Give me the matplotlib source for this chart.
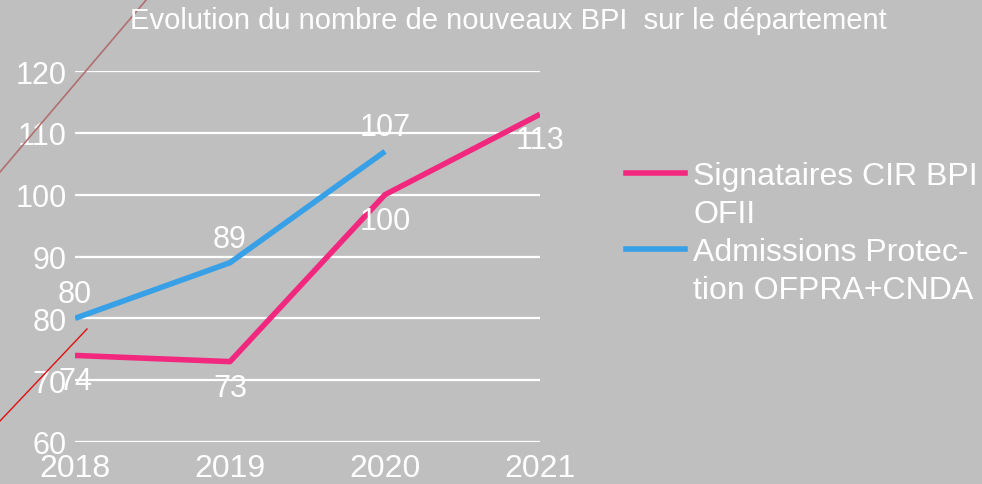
import matplotlib.pyplot as plt
from matplotlib.lines import Line2D

years = [2018, 2019, 2020, 2021]
signataires = [74, 73, 100, 113]
admissions_years = [2018, 2019, 2020]
admissions = [80, 89, 107]
yticks = [60, 70, 80, 90, 100, 110, 120]
legend_labels = ['Signataires CIR BPI', 'OFII', 'Admissions Protec-', 'tion OFPRA+CNDA']

bg = '#bfbfbf'
pink = '#f2287f'
blue = '#38a0e6'

plt.rcParams['font.family'] = ['Liberation Sans', 'DejaVu Sans']

fig = plt.figure(figsize=(9.82, 4.85), dpi=100, facecolor=bg)
ax = fig.add_axes([75 / 982, 1 - 443 / 485, 465 / 982, 371 / 485])
ax.set_facecolor(bg)

l1, = ax.plot(years, signataires, color=pink, lw=4, solid_capstyle='butt', zorder=3)
l2, = ax.plot(admissions_years, admissions, color=blue, lw=4, solid_capstyle='butt', zorder=3)

for x, y in zip(years, signataires):
    ax.annotate(str(y), (x, y), xytext=(0, -26), textcoords='offset pixels',
                ha='center', va='center', color='white', fontsize=22)
for x, y in zip(admissions_years, admissions):
    ax.annotate(str(y), (x, y), xytext=(0, 24), textcoords='offset pixels',
                ha='center', va='center', color='white', fontsize=22)

ax.set_xlim(2018, 2021)
ax.set_ylim(60, 120)
ax.set_yticks(yticks)
ax.set_xticks(years)
ax.grid(axis='y', color='white', lw=1.6)
ax.set_axisbelow(True)
ax.tick_params(length=0, colors='white')
ax.tick_params(axis='y', pad=6, labelsize=22)
ax.tick_params(axis='x', pad=8, labelsize=23)
for s in ax.spines.values():
    s.set_visible(False)

fig.text(0.518, 0.956, 'Evolution du nombre de nouveaux BPI  sur le département',
         ha='center', va='center', color='white', fontsize=21,
         family=['Liberation Sans Narrow', 'Liberation Sans'])

# legend: handle sits on the first line of each wrapped label
blank = Line2D([], [], color='none')
handles = [Line2D([], [], color=pink, lw=4), blank, Line2D([], [], color=blue, lw=4), blank]
leg = ax.legend(handles, legend_labels, loc='upper left',
                bbox_to_anchor=(626 / 982, 1 - 162 / 485),
                bbox_transform=fig.transFigure, frameon=False, fontsize=23,
                labelcolor='white', handlelength=1.85, handletextpad=0.25,
                labelspacing=0.25, borderaxespad=0, borderpad=0)

# decorative strokes at the left edge
fig.add_artist(Line2D([0, 147 / 982], [1 - 173 / 485, 1], color='#b07070', lw=1.2))
fig.add_artist(Line2D([0, 87 / 982], [1 - 422 / 485, 1 - 330 / 485], color='#e01010', lw=1))

fig.savefig('out.png', dpi=100, facecolor=bg)
